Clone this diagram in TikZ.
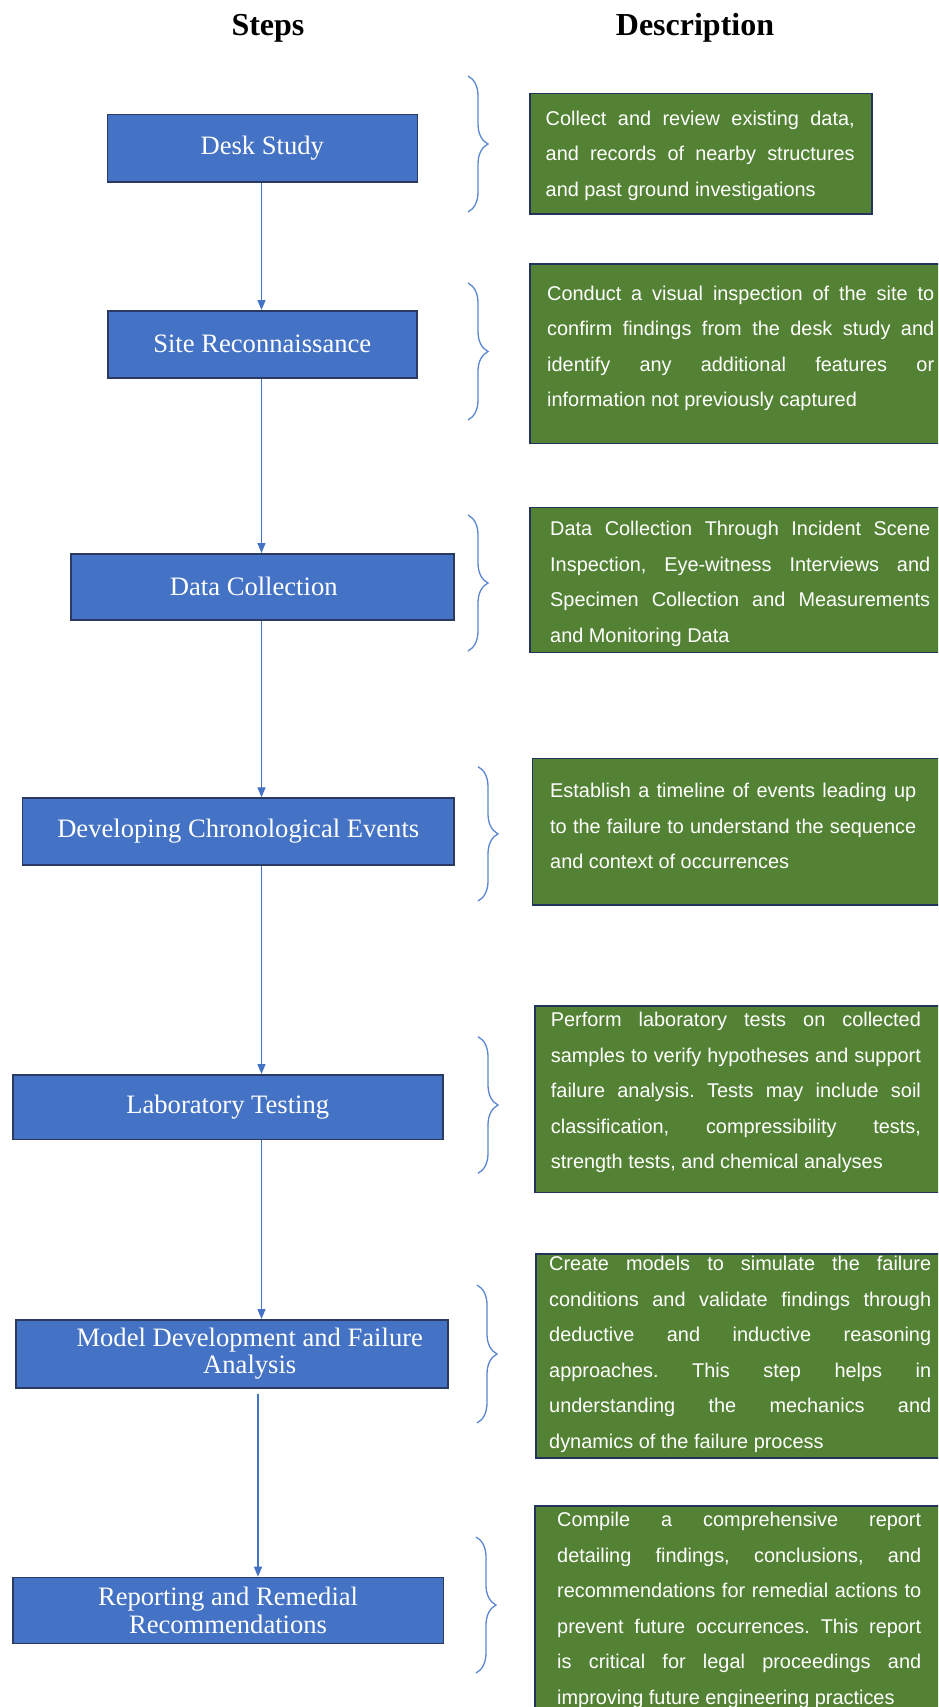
\documentclass[tikz,border=0pt]{standalone}
\usepackage{fontspec}
\setmainfont{Liberation Serif}
\newfontfamily\descfont{Liberation Sans}
\usetikzlibrary{arrows.meta,decorations.pathreplacing}
\definecolor{stepblue}{HTML}{4472C4}
\definecolor{stepedge}{HTML}{2B3A60}
\definecolor{descgreen}{HTML}{548235}
\definecolor{descedge}{HTML}{22345A}
\definecolor{bracecol}{HTML}{5B87D2}
\newcommand{\justline}[2]{\makebox[#1][s]{#2}}
\frenchspacing
\begin{document}
\begin{tikzpicture}[x=1pt,y=1pt,
  stepbox/.style={draw=stepedge, line width=1.5pt, fill=stepblue, text=white,
    font=\fontsize{26.6}{27.5}\selectfont, align=center, inner sep=0pt, anchor=north west},
  descbox/.style={draw=descedge, line width=1.5pt, fill=descgreen, anchor=north west, inner sep=0pt},
  desctext/.style={text=white, anchor=north west, inner sep=0pt, align=left,
    font=\descfont\fontsize{19.9}{35.5}\selectfont\frenchspacing},
  flow/.style={draw=stepblue, line width=1.3pt, -{Triangle[length=10pt,width=8pt]}},
  brc/.style={draw=bracecol, line width=1.3pt, decorate, decoration={brace, amplitude=20pt}},
  title/.style={font=\bfseries\fontsize{32}{36}\selectfont, anchor=base, inner sep=0pt}]
\useasboundingbox (0,0) rectangle (938,-1707);
\fill[white] (0,0) rectangle (938,-1707);
\clip (0,0) rectangle (938,-1707);

% titles
\node[title] (hsteps) at (268,-36) {Steps};
\node[title] (hdesc) at (695,-36) {Description};

% step boxes
\node[stepbox, minimum width=310pt, minimum height=67.5pt] (s1) at (106.5,-114) {Desk Study};
\node[stepbox, minimum width=309pt, minimum height=67pt] (s2) at (107,-310) {Site Reconnaissance};
\node[stepbox, minimum width=383pt, minimum height=66pt] (s3) at (70,-553) {\hspace*{-17pt}Data Collection};
\node[stepbox, minimum width=431.6pt, minimum height=67pt] (s4) at (21.7,-797.3) {Developing Chronological Events};
\node[stepbox, minimum width=430pt, minimum height=64.5pt] (s5) at (12,-1074) {Laboratory Testing};
\node[stepbox, minimum width=432pt, minimum height=68pt] (s6) at (15,-1319) {\hspace*{36pt}Model Development and Failure\\\hspace*{36pt}Analysis};
\node[stepbox, minimum width=430.6pt, minimum height=66pt] (s7) at (12,-1576.7) {Reporting and Remedial\\Recommendations};

% arrows
\coordinate (ax) at (261.5,0);
\coordinate (bx) at (258,0);
\draw[flow] (s1.south -| ax) -- (s2.north -| ax);
\draw[flow] (s2.south -| ax) -- (s3.north -| ax);
\draw[flow] (s3.south -| ax) -- (s4.north -| ax);
\draw[flow] (s4.south -| ax) -- (s5.north -| ax);
\draw[flow] (s5.south -| ax) -- (s6.north -| ax);
\draw[flow, shorten <=5pt] (s6.south -| bx) -- (s7.north -| bx);

% braces
\draw[brc] (468,-76) -- (468,-212);
\draw[brc] (468,-283) -- (468,-420);
\draw[brc] (468,-515) -- (468,-651);
\draw[brc] (478,-766.7) -- (478,-901);
\draw[brc] (478,-1036.7) -- (478,-1173.3);
\draw[brc] (477,-1285) -- (477,-1423);
\draw[brc] (476,-1537) -- (476,-1673);

% description boxes
\node[descbox, minimum width=342pt, minimum height=120.3pt] (g1) at (529,-92.7) {};
\node[descbox, minimum width=420pt, minimum height=179.4pt] (g2) at (529,-263.3) {};
\node[descbox, minimum width=420pt, minimum height=145pt] (g3) at (529.3,-506.7) {};
\node[descbox, minimum width=420pt, minimum height=146.6pt] (g4) at (531.7,-757.7) {};
\node[descbox, minimum width=420pt, minimum height=186.7pt] (g5) at (534,-1005) {};
\node[descbox, minimum width=420pt, minimum height=204pt] (g6) at (535,-1253) {};
\node[descbox, minimum width=420pt, minimum height=230pt] (g7) at (534,-1505) {};

% description texts
\node[desctext] (t1) at (545.5,-100.15) {\strut\justline{309pt}{Collect and review existing data,}\\
\justline{309pt}{and records of nearby structures}\\
and past ground investigations};
\node[desctext] (t2) at (547,-275.15) {\strut\justline{387pt}{Conduct a visual inspection of the site to}\\
\justline{387pt}{confirm findings from the desk study and}\\
\justline{387pt}{identify any additional features or}\\
information not previously captured};
\node[desctext] (t3) at (550,-510.85) {\strut\justline{380pt}{Data Collection Through Incident Scene}\\
\justline{380pt}{Inspection, Eye-witness Interviews and}\\
\justline{380pt}{Specimen Collection and Measurements}\\
and Monitoring Data};
\node[desctext] (t4) at (550,-772.85) {\strut\justline{366pt}{Establish a timeline of events leading up}\\
\justline{366pt}{to the failure to understand the sequence}\\
and context of occurrences};
\node[desctext] (t5) at (550.7,-1001.85) {\strut\justline{370pt}{Perform laboratory tests on collected}\\
\justline{370pt}{samples to verify hypotheses and support}\\
\justline{370pt}{failure analysis. Tests may include soil}\\
\justline{370pt}{classification, compressibility tests,}\\
strength tests, and chemical analyses};
\node[desctext] (t6) at (549,-1245.85) {\strut\justline{382pt}{Create models to simulate the failure}\\
\justline{382pt}{conditions and validate findings through}\\
\justline{382pt}{deductive and inductive reasoning}\\
\justline{382pt}{approaches. This step helps in}\\
\justline{382pt}{understanding the mechanics and}\\
dynamics of the failure process};
\node[desctext] (t7) at (557,-1501.85) {\strut\justline{364pt}{Compile a comprehensive report}\\
\justline{364pt}{detailing findings, conclusions, and}\\
\justline{364pt}{recommendations for remedial actions to}\\
\justline{364pt}{prevent future occurrences. This report}\\
\justline{364pt}{is critical for legal proceedings and}\\
improving future engineering practices};
\end{tikzpicture}
\end{document}
